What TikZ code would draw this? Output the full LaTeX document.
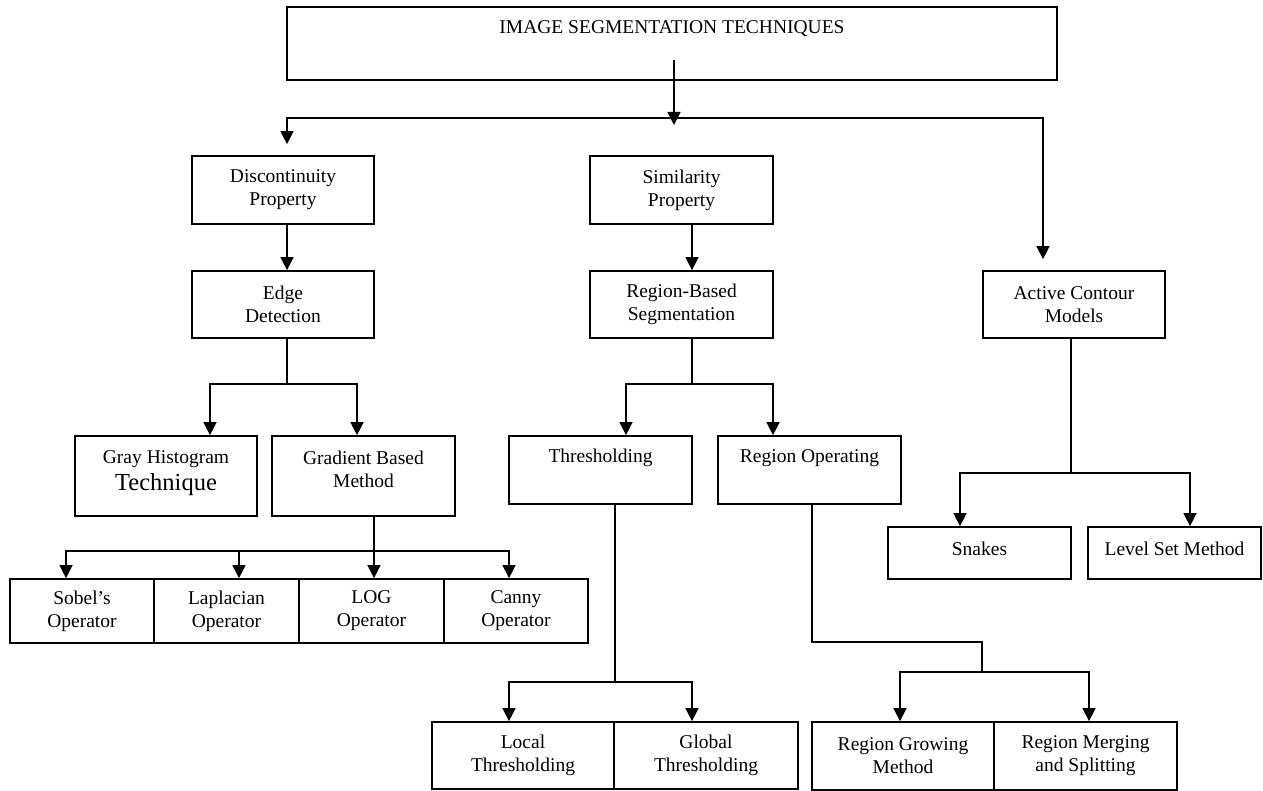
\documentclass[tikz,border=0pt]{standalone}
\usepackage{fontspec}
\setmainfont{Liberation Serif}
\usetikzlibrary{arrows.meta}
\begin{document}
\begin{tikzpicture}[x=1pt,y=-1pt,
  box/.style={draw,line width=1.7pt,inner sep=0pt,align=center,
    font=\fontsize{19.5}{23}\selectfont},
  txt/.style={inner sep=0pt,align=center,font=\fontsize{19.5}{23}\selectfont},
  conn/.style={line width=1.4pt},
  arr/.style={conn,-{Triangle[length=13pt,width=13pt]}},
  arrtwo/.style={conn,{Triangle[length=13pt,width=13pt]}-{Triangle[length=13pt,width=13pt]}}]
\useasboundingbox (0,0) rectangle (1263,791);
% boxes
\node[box,minimum width=770pt,minimum height=73pt] (top) at (672,43.5) {};
\node[txt] (title) at (672,29) {IMAGE SEGMENTATION TECHNIQUES};
\node[box,minimum width=182pt,minimum height=68pt] (disc) at (283,190) {Discontinuity\\Property};
\node[box,minimum width=183pt,minimum height=68pt] (sim) at (681.5,190) {Similarity\\Property};
\node[box,minimum width=182pt,minimum height=67pt] (edge) at (283,304.5) {Edge\\Detection};
\node[box,minimum width=183pt,minimum height=67pt] (rbs) at (681.5,304.5) {Region-Based\\Segmentation};
\node[box,minimum width=182pt,minimum height=67pt] (acm) at (1074,304.5) {Active Contour\\Models};
\node[box,minimum width=182pt,minimum height=80pt] (gray) at (166,476) {};
\node[txt] (grayt) at (166,459) {Gray Histogram};
\node[txt,font=\fontsize{24.5}{26}\selectfont] (grayu) at (166,485) {Technique};
\node[box,minimum width=183pt,minimum height=80pt] (grad) at (363.5,476) {};
\node[txt] (gradt) at (363.5,469.5) {Gradient Based\\Method};
\node[box,minimum width=183pt,minimum height=68pt] (thr) at (600.5,470) {};
\node[txt] (thrt) at (600.5,458) {Thresholding};
\node[box,minimum width=183pt,minimum height=68pt] (rop) at (809.5,470) {};
\node[txt] (ropt) at (809.5,458) {Region Operating};
\node[box,minimum width=144pt,minimum height=64pt] (sob) at (82,611) {Sobel’s\\Operator};
\node[box,minimum width=145pt,minimum height=64pt] (lap) at (226.5,611) {Laplacian\\Operator};
\node[box,minimum width=145pt,minimum height=64pt] (log) at (371.5,611) {LOG\\Operator};
\node[box,minimum width=144pt,minimum height=64pt] (can) at (516,611) {Canny\\Operator};
\node[box,minimum width=183pt,minimum height=52pt] (snk) at (979.5,553) {};
\node[txt] (snkt) at (979.5,549) {Snakes};
\node[box,minimum width=173pt,minimum height=52pt] (lvl) at (1174.5,553) {};
\node[txt] (lvlt) at (1174.5,549) {Level Set Method};
\node[box,minimum width=182pt,minimum height=67pt] (loc) at (523,755.5) {Local\\Thresholding};
\node[box,minimum width=184pt,minimum height=67pt] (glo) at (706,755.5) {Global\\Thresholding};
\node[box,minimum width=182pt,minimum height=68pt] (rgm) at (903,756) {Region Growing\\Method};
\node[box,minimum width=183pt,minimum height=68pt] (rms) at (1085.5,756) {Region Merging\\and Splitting};
% junction coordinates
\coordinate (j0) at (674,118);
\coordinate (bL) at (287,118);
\coordinate (bR) at (1043,118);
\coordinate (m1) at (692,338);
\coordinate (e1) at (287,384);
\coordinate (e2) at (210,384);
\coordinate (e3) at (357,384);
\coordinate (g0) at (374,551);
\coordinate (g1) at (66,551);
\coordinate (g2) at (239,551);
\coordinate (g4) at (509,551);
\coordinate (r0) at (692,384);
\coordinate (r1) at (626,384);
\coordinate (r2) at (773,384);
\coordinate (t0) at (615,682);
\coordinate (t1) at (509,682);
\coordinate (t2) at (692,682);
\coordinate (o0) at (812,642);
\coordinate (o1) at (982,642);
\coordinate (o2) at (982,672);
\coordinate (o3) at (900,672);
\coordinate (o4) at (1089,672);
\coordinate (a0) at (1071,473);
\coordinate (a1) at (960,473);
\coordinate (a2) at (1190,473);
% connectors
\draw[arr] ([yshift=21pt]top.south -| j0) -- ([yshift=-7pt]j0);
\draw[arrtwo] ([yshift=11pt]disc.north -| bL) -- (bL) -- (bR) -- ([yshift=11pt]acm.north -| bR);
\draw[arr] (disc.south -| bL) -- (edge.north -| bL);
\draw[arr] (sim.south -| m1) -- (rbs.north -| m1);
\draw[conn] (edge.south -| e1) -- (e1);
\draw[arrtwo] (gray.north -| e2) -- (e2) -- (e3) -- (grad.north -| e3);
\draw[conn] (grad.south -| g0) -- (g0);
\draw[arrtwo] (sob.north -| g1) -- (g1) -- (g4) -- (can.north -| g4);
\draw[arr] (g2) -- (lap.north -| g2);
\draw[arr] (g0) -- (log.north -| g0);
\draw[conn] (rbs.south -| r0) -- (r0);
\draw[arrtwo] (thr.north -| r1) -- (r1) -- (r2) -- (rop.north -| r2);
\draw[conn] (thr.south -| t0) -- (t0);
\draw[arrtwo] (loc.north -| t1) -- (t1) -- (t2) -- (glo.north -| t2);
\draw[conn] (rop.south -| o0) -- (o0) -- (o1) -- (o2);
\draw[arrtwo] (rgm.north -| o3) -- (o3) -- (o4) -- (rms.north -| o4);
\draw[conn] (acm.south -| a0) -- (a0);
\draw[arrtwo] (snk.north -| a1) -- (a1) -- (a2) -- (lvl.north -| a2);
\end{tikzpicture}
\end{document}
